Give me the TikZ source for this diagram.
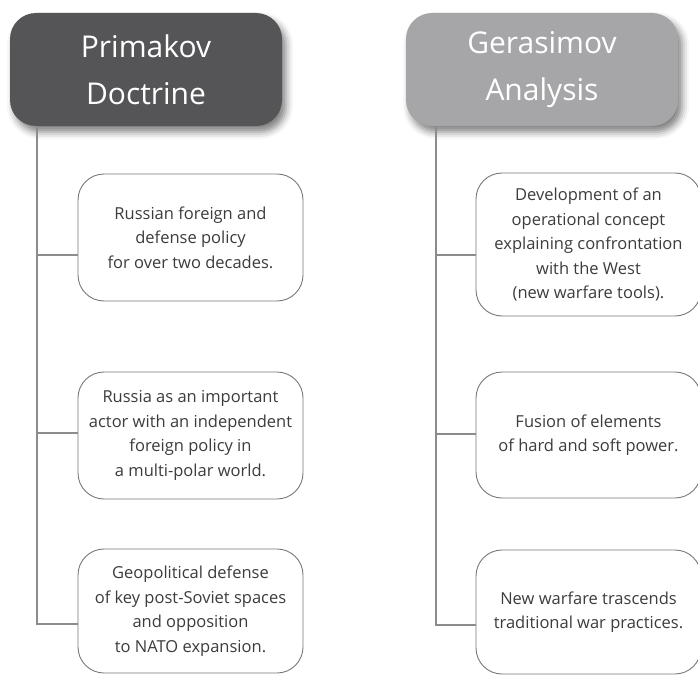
\documentclass[tikz,border=0pt]{standalone}
\usepackage{fontspec}
\setmainfont{Open Sans}
\usetikzlibrary{shadows.blur}
\definecolor{hdrdark}{RGB}{85,85,88}
\definecolor{hdrlight}{RGB}{166,166,168}
\definecolor{boxline}{RGB}{120,120,122}
\definecolor{txtgray}{RGB}{60,60,62}
\tikzset{
  header/.style={rounded corners=26pt, minimum width=272pt, minimum height=113pt,
    align=center, text=white, font=\fontsize{30}{47}\selectfont,
    blur shadow={shadow xshift=4pt, shadow yshift=-6pt, shadow blur radius=7pt, shadow opacity=50}},
  topic/.style={draw=boxline, line width=0.9pt, rounded corners=26pt, fill=white,
    minimum width=225pt, align=center, text=txtgray,
    font=\fontsize{16.5}{24.5}\selectfont},
  trunk/.style={draw=gray!90, line width=2.6pt}
}
\begin{document}
\begin{tikzpicture}[x=1pt,y=-1pt]
  \useasboundingbox (0,0) rectangle (698,674);
  % Primakov
  \node[header, fill=hdrdark] (prim) at (146,69.5) {Primakov\\Doctrine};
  \node[topic, minimum height=127pt] (l1) at (190.5,237.5)
    {Russian foreign and\\defense policy\\for over two decades.};
  \node[topic, minimum height=127pt] (l2) at (190.5,435.5)
    {Russia as an important\\actor with an independent\\foreign policy in\\a multi-polar world.};
  \node[topic, minimum height=124pt] (l3) at (190.5,611)
    {Geopolitical defense\\of key post-Soviet spaces\\and opposition\\to NATO expansion.};
  % Gerasimov
  \node[header, fill=hdrlight] (gera) at (542,69.5) {Gerasimov\\Analysis};
  \node[topic, minimum height=143pt] (r1) at (588.5,244.5)
    {Development of an\\operational concept\\explaining confrontation\\with the West\\(new warfare tools).};
  \node[topic, minimum height=126pt] (r2) at (588.5,435)
    {Fusion of elements\\of hard and soft power.};
  \node[topic, minimum height=124pt] (r3) at (588.5,612)
    {New warfare trascends\\traditional war practices.};
  % Verbindungen links
  \coordinate (ptop) at ([xshift=27pt]prim.south west);
  \coordinate (p1) at ([yshift=-17.5pt]l1.west);
  \coordinate (p2) at ([yshift=2.5pt]l2.west);
  \coordinate (p3) at ([yshift=-13pt]l3.west);
  \draw[trunk] (ptop) |- (p3);
  \foreach \p in {p1,p2}
    \draw[trunk] (ptop |- \p) -- (\p);
  % Verbindungen rechts
  \coordinate (gtop) at ([xshift=30pt]gera.south west);
  \coordinate (g1) at ([yshift=-10.5pt]r1.west);
  \coordinate (g2) at ([yshift=1pt]r2.west);
  \coordinate (g3) at ([yshift=-13pt]r3.west);
  \draw[trunk] (gtop) |- (g3);
  \foreach \g in {g1,g2}
    \draw[trunk] (gtop |- \g) -- (\g);
\end{tikzpicture}
\end{document}
